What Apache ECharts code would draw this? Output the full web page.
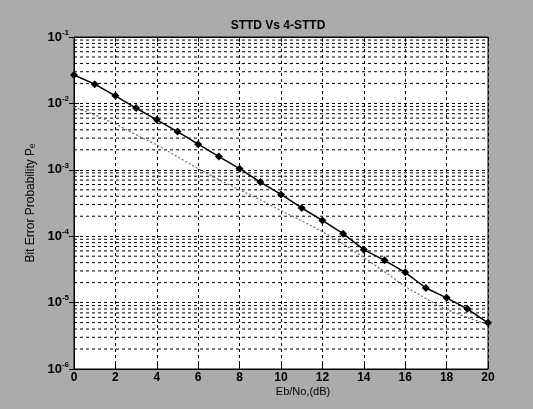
<!DOCTYPE html>
<html>
<head>
<meta charset="utf-8">
<script src="https://cdn.jsdelivr.net/npm/echarts@6/dist/echarts.min.js"></script>
<style>
html,body{margin:0;padding:0;background:#ababab;}
#c{width:533px;height:409px;}
</style>
</head>
<body>
<div id="c"></div>
<script>
// Eb/No in dB
var snr = [0,1,2,3,4,5,6,7,8,9,10,11,12,13,14,15,16,17,18,19,20];
// STTD (solid, diamond markers)
var sttd = [2.68e-2,1.95e-2,1.30e-2,8.5e-3,5.65e-3,3.77e-3,2.43e-3,1.58e-3,1.04e-3,6.53e-4,4.26e-4,2.66e-4,1.73e-4,1.09e-4,6.27e-5,4.33e-5,2.86e-5,1.66e-5,1.18e-5,8.05e-6,4.96e-6];
// 4-STTD (dotted)
var sttd4 = [8.85e-3,6.7e-3,4.92e-3,3.36e-3,2.37e-3,1.57e-3,1.04e-3,7.08e-4,5.0e-4,3.54e-4,2.42e-4,1.71e-4,1.17e-4,7.71e-5,4.75e-5,2.93e-5,1.74e-5,1.15e-5,7.85e-6,5.94e-6,4.7e-6];
var decades = [-6,-5,-4,-3,-2];
var minorMult = [2,3,4,5,6,7,8,9];
var xRange = [0,20];

var minorValues = [];
decades.forEach(function(d){
  minorMult.forEach(function(m){ minorValues.push(m*Math.pow(10,d)); });
});

function pairs(ys){ return snr.map(function(x,i){ return [x, ys[i]]; }); }

var gridLine = {color:'#000', width:1, type:[3,3]};
var font = 'Liberation Sans, Arial, sans-serif';

var minorSeries = minorValues.map(function(v){
  return {type:'line', silent:true, z:1, symbol:'none', animation:false,
    data:[[xRange[0], v],[xRange[1], v]], lineStyle:gridLine, emphasis:{disabled:true}};
});

var chart = echarts.init(document.getElementById('c'));
chart.setOption({
  backgroundColor:'#ababab',
  animation:false,
  tooltip:{show:false},
  title:[
    {text:'STTD Vs 4-STTD', left:273, top:15, textAlign:'center',
     textStyle:{fontFamily:font, fontSize:12, fontWeight:'bold', color:'#000'}},
    {text:'Eb/No,(dB)', left:298, top:381, textAlign:'center',
     textStyle:{fontFamily:font, fontSize:11, fontWeight:'normal', color:'#000'}}
  ],
  grid:{left:74, right:45, top:37, bottom:40, show:true, backgroundColor:'#fff', borderColor:'#000', borderWidth:1},
  xAxis:[{
    type:'value', min:0, max:20, interval:2,
    axisLine:{show:true, lineStyle:{color:'#000'}},
    axisTick:{inside:true, length:5, lineStyle:{color:'#000'}},
    axisLabel:{fontFamily:font, fontSize:12, fontWeight:'bold', color:'#000', margin:3},
    splitLine:{show:true, lineStyle:gridLine}
  },{
    type:'value', min:0, max:20, interval:2, position:'top',
    axisLine:{show:true, lineStyle:{color:'#000'}},
    axisTick:{inside:true, length:5, lineStyle:{color:'#000'}},
    axisLabel:{show:false}, splitLine:{show:false}
  }],
  yAxis:[{
    type:'log', logBase:10, min:1e-6, max:1e-1,
    name:'Bit Error Probability P\u2091', nameLocation:'middle', nameGap:21,
    nameTextStyle:{fontFamily:font, fontSize:12, color:'#000'},
    axisLine:{show:true, lineStyle:{color:'#000'}},
    axisTick:{inside:true, length:5, lineStyle:{color:'#000'}},
    axisLabel:{fontFamily:font, color:'#000', margin:5,
      formatter:function(v){ return '{b|10}{s|' + Math.round(Math.log10(v)) + '}'; },
      rich:{b:{fontSize:13, fontWeight:'bold', fontFamily:font, color:'#000'},
            s:{fontSize:8, fontWeight:'bold', fontFamily:font, color:'#000', padding:[0,0,9,0]}}},
    splitLine:{show:true, lineStyle:gridLine}
  },{
    type:'log', logBase:10, min:1e-6, max:1e-1, position:'right',
    axisLine:{show:true, lineStyle:{color:'#000'}},
    axisTick:{inside:true, length:5, lineStyle:{color:'#000'}},
    axisLabel:{show:false}, splitLine:{show:false}
  }],
  series: minorSeries.concat([
    {type:'line', name:'4-STTD', z:3, data:pairs(sttd4), showSymbol:false, symbol:'none',
     lineStyle:{color:'#6e6e6e', width:1.2, type:[2,2]}},
    {type:'line', name:'STTD', z:4, data:pairs(sttd), symbol:'diamond', symbolSize:8,
     itemStyle:{color:'#000'}, lineStyle:{color:'#000', width:1.5}}
  ])
});
</script>
</body>
</html>
